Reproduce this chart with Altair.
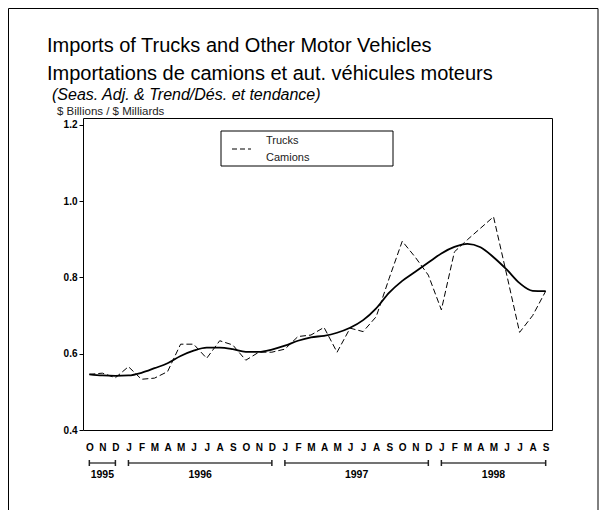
import json
import altair as alt
import pandas as pd

# ---------------- data ----------------
month_labels = ["O", "N", "D",
                "J", "F", "M", "A", "M", "J", "J", "A", "S", "O", "N", "D",
                "J", "F", "M", "A", "M", "J", "J", "A", "S", "O", "N", "D",
                "J", "F", "M", "A", "M", "J", "J", "A", "S"]
seas_adj = [0.546, 0.549, 0.537,
            0.566, 0.533, 0.536, 0.553, 0.625, 0.625, 0.588, 0.634, 0.623, 0.583, 0.604, 0.604,
            0.612, 0.645, 0.649, 0.669, 0.604, 0.667, 0.658, 0.697, 0.798, 0.895, 0.853, 0.806,
            0.715, 0.867, 0.899, 0.929, 0.959, 0.809, 0.656, 0.700, 0.764]
trend = [0.546, 0.543, 0.542,
         0.543, 0.550, 0.562, 0.575, 0.594, 0.608, 0.616, 0.616, 0.612, 0.605, 0.605, 0.611,
         0.621, 0.634, 0.643, 0.647, 0.655, 0.668, 0.688, 0.719, 0.760, 0.791, 0.815, 0.839,
         0.863, 0.880, 0.888, 0.879, 0.853, 0.821, 0.785, 0.765, 0.764]
years = ["1995", "1996", "1997", "1998"]
year_start = [0, 3, 15, 27]
year_end = [2, 14, 26, 35]
y_ticks = [0.4, 0.6, 0.8, 1.0, 1.2]

title_lines = ["Imports of Trucks and Other Motor Vehicles",
               "Importations de camions et aut. véhicules moteurs"]
subtitle = "(Seas. Adj. & Trend/Dés. et tendance)"
units = "$ Billions / $ Milliards"
legend_lines = ["Trucks", "Camions"]

FONT = "Liberation Sans"

df = pd.DataFrame({"idx": list(range(len(month_labels))), "month": month_labels,
                   "sa": seas_adj, "trend": trend})
yr = pd.DataFrame({"year": years, "start": year_start, "end": year_end})
yr["mid"] = (yr["start"] + yr["end"]) / 2
yr_ends = pd.DataFrame({"pos": year_start + year_end})

x_scale = alt.Scale(domain=[-0.485, 35.485], nice=False, zero=False)
y_scale = alt.Scale(domain=[0.4, 1.218], nice=False, zero=False)

x_axis = alt.Axis(values=list(range(len(month_labels))),
                  labelExpr=json.dumps(month_labels) + "[datum.value]",
                  tickSize=0, domain=False, grid=False, labelPadding=12,
                  labelFontWeight="bold", labelFontSize=10, labelOverlap=False,
                  labelFlush=False, title=None, labelFont=FONT, labelColor="black")
y_axis = alt.Axis(values=y_ticks, format=".1f", tickSize=4, tickColor="black",
                  labelFontWeight="bold", labelFontSize=10, grid=False, domain=False,
                  title=None, labelPadding=2, labelFont=FONT, labelColor="black")

sa_line = alt.Chart(df).mark_line(color="black", strokeWidth=1, strokeDash=[6, 3]).encode(
    x=alt.X("idx:Q", scale=x_scale, axis=x_axis),
    y=alt.Y("sa:Q", scale=y_scale, axis=y_axis))
trend_line = alt.Chart(df).mark_line(color="black", strokeWidth=1.8, interpolate="monotone").encode(
    x=alt.X("idx:Q", scale=x_scale, axis=x_axis),
    y=alt.Y("trend:Q", scale=y_scale, axis=y_axis))

yr_rules = alt.Chart(yr).mark_rule(color="#444", strokeWidth=1.5).encode(
    x=alt.X("start:Q", scale=x_scale, axis=x_axis), x2="end:Q", y=alt.value(345))
yr_ticks = alt.Chart(yr_ends).mark_rule(color="#222", strokeWidth=1.5).encode(
    x=alt.X("pos:Q", scale=x_scale, axis=x_axis), y=alt.value(342), y2=alt.value(348))
yr_text = alt.Chart(yr).mark_text(font=FONT, fontSize=10.5, fontWeight="bold", color="black",
                                  baseline="middle").encode(
    x=alt.X("mid:Q", scale=x_scale, axis=x_axis), y=alt.value(357), text="year:N")

def label(text, x, y, size, style="normal", weight="normal", color="black"):
    return alt.Chart(pd.DataFrame({"t": [text]})).mark_text(
        font=FONT, fontSize=size, fontStyle=style, fontWeight=weight, color=color,
        align="left", baseline="alphabetic").encode(
        text="t:N", x=alt.value(x), y=alt.value(y))

t1 = label(title_lines[0], -36, -66, 20)
t2 = label(title_lines[1], -36, -38, 20)
t3 = label(subtitle, -31, -18, 16, style="italic")
t4 = label(units, -26, -3, 11.5, color="#222")

one = pd.DataFrame({"k": [0]})
leg_box = alt.Chart(one).mark_rect(fill="white", stroke="black", strokeWidth=1).encode(
    x=alt.value(138), x2=alt.value(310), y=alt.value(13), y2=alt.value(48))
leg_dash = alt.Chart(one).mark_rule(color="black", strokeWidth=1, strokeDash=[5, 3]).encode(
    x=alt.value(149), x2=alt.value(168), y=alt.value(31))
leg_t1 = label(legend_lines[0], 183, 26, 11, color="#222")
leg_t2 = label(legend_lines[1], 183, 43, 11, color="#222")

border = alt.Chart(one).mark_rect(fill="transparent", stroke="black", strokeWidth=1).encode(
    x=alt.value(-74.5), x2=alt.value(515), y=alt.value(-109.5), y2=alt.value(420))

chart = alt.layer(sa_line, trend_line, yr_rules, yr_ticks, yr_text,
                  t1, t2, t3, t4, leg_box, leg_dash, leg_t1, leg_t2, border).properties(
    width=469, height=312, autosize="none",
    padding={"left": 75, "top": 110, "right": 47, "bottom": 80},
    background="white",
).configure_view(stroke="black", strokeWidth=1)

chart.save("out.html", embed_options={"renderer": "svg", "actions": False})
